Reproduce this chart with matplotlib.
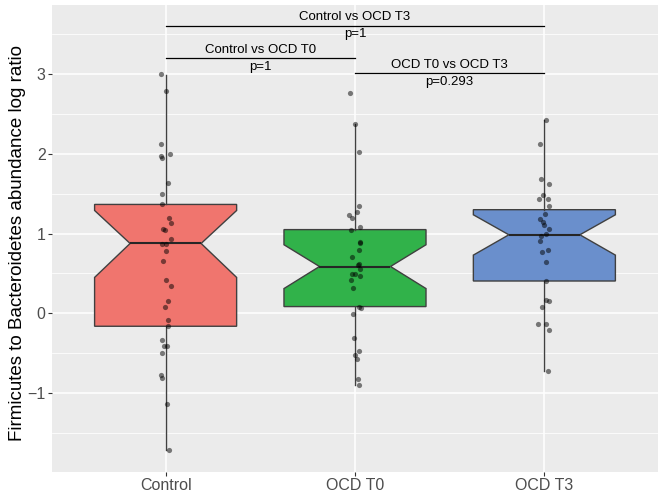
import matplotlib.pyplot as plt
from matplotlib.ticker import FixedLocator, MultipleLocator

plt.rcParams['font.family'] = ['Liberation Sans', 'DejaVu Sans']

groups = ['Control', 'OCD T0', 'OCD T3']
fills = ['#F0756E', '#31B24A', '#6A8FCC']

# jittered points: values and horizontal offsets (category units)
control_vals = [3.0, 2.79, 2.13, 1.98, 1.95, 2.0, 1.63, 1.5, 1.37, 1.2, 1.13,
                1.06, 1.04, 0.93, 0.87, 0.87, 0.78, 0.65, 0.42, 0.34, 0.16,
                0.08, -0.09, -0.16, -0.34, -0.41, -0.41, -0.5, -0.78, -0.81,
                -1.14, -1.72]
control_jit = [-0.026, 0.0, -0.026, -0.023, -0.017, 0.021, 0.012, -0.019,
               -0.019, 0.017, 0.026, -0.016, -0.002, 0.028, -0.017, 0.004,
               0.002, -0.014, 0.0, 0.028, 0.011, -0.004, 0.014, 0.012, -0.021,
               0.009, -0.009, -0.017, -0.023, -0.021, 0.009, 0.017]

t0_vals = [2.77, 2.37, 2.02, 1.35, 1.265, 1.23, 1.20, 1.08, 1.04, 0.90, 0.88,
           0.79, 0.70, 0.62, 0.60, 0.56, 0.495, 0.49, 0.47, 0.42, 0.32, 0.084,
           0.068, -0.01, -0.305, -0.47, -0.53, -0.57, -0.82, -0.90]
t0_jit = [-0.028, -0.002, 0.021, 0.023, 0.012, -0.030, -0.017, 0.025, -0.019,
          0.028, 0.028, 0.023, -0.016, 0.023, 0.017, 0.025, -0.017, -0.002,
          0.026, -0.023, -0.011, 0.023, 0.030, -0.012, -0.007, 0.021, 0.0,
          0.012, 0.014, 0.019]

t3_vals = [2.42, 2.12, 1.68, 1.62, 1.48, 1.44, 1.43, 1.35, 1.25, 1.18, 1.14,
           1.105, 1.06, 1.0, 0.97, 0.91, 0.80, 0.775, 0.64, 0.41, 0.17, 0.15,
           0.075, -0.13, -0.135, -0.205, -0.72]
t3_jit = [0.011, -0.023, -0.017, 0.023, -0.007, -0.028, 0.017, 0.026, 0.004,
          -0.025, -0.007, -0.002, 0.025, 0.011, -0.019, -0.025, 0.019, -0.012,
          0.011, 0.011, 0.011, 0.023, -0.011, -0.032, 0.007, 0.023, 0.019]

# box statistics
q1 = [-0.163, 0.084, 0.405]
med = [0.876, 0.587, 0.985]
q3 = [1.366, 1.05, 1.30]
cilo = [0.45, 0.31, 0.73]
cihi = [1.29, 0.86, 1.236]
whislo = [-1.72, -0.90, -0.72]
whishi = [2.99, 2.37, 2.42]

# pairwise comparisons
comp_pairs = [(1, 3), (1, 2), (2, 3)]
comp_y = [3.61, 3.20, 3.01]
comp_labels = ['Control vs OCD T3', 'Control vs OCD T0', 'OCD T0 vs OCD T3']
comp_p = ['p=1', 'p=1', 'p=0.293']

y_ticks = [-1, 0, 1, 2, 3]

fig = plt.figure(figsize=(6.58, 4.92), dpi=100)
ax = fig.add_axes([0.079, 0.041, 0.921, 0.949])
ax.set_facecolor('#EBEBEB')
for s in ax.spines.values():
    s.set_visible(False)

stats = []
for i in range(3):
    stats.append(dict(med=med[i], q1=q1[i], q3=q3[i], cilo=cilo[i], cihi=cihi[i],
                      whislo=whislo[i], whishi=whishi[i], fliers=[]))

bp = ax.bxp(stats, positions=[1, 2, 3], widths=0.75, shownotches=True,
            showfliers=False, showcaps=False, patch_artist=True,
            boxprops=dict(edgecolor='#404040', linewidth=1.0),
            whiskerprops=dict(color='#404040', linewidth=1.0),
            medianprops=dict(color='#262626', linewidth=1.5))
for patch, c in zip(bp['boxes'], fills):
    patch.set_facecolor(c)

for i, (vals, jit) in enumerate([(control_vals, control_jit),
                                 (t0_vals, t0_jit), (t3_vals, t3_jit)]):
    xs = [i + 1 + j for j in jit]
    ax.scatter(xs, vals, s=14, color='black', alpha=0.5, linewidths=0, zorder=5)

for (a, b), y, lab, p in zip(comp_pairs, comp_y, comp_labels, comp_p):
    ax.plot([a, b], [y, y], color='black', lw=0.9, zorder=6)
    ax.text((a + b) / 2, y + 0.105, lab, ha='center', va='center',
            fontsize=9.5, color='black')
    ax.text((a + b) / 2, y - 0.11, p, ha='center', va='center',
            fontsize=9.5, color='black')

ax.set_xlim(0.4, 3.6)
ax.set_ylim(-1.99, 3.87)
ax.set_xticks([1, 2, 3])
ax.set_xticklabels(groups)
ax.yaxis.set_major_locator(FixedLocator(y_ticks))
ax.yaxis.set_minor_locator(MultipleLocator(0.5))
ax.grid(which='major', color='white', lw=1.1)
ax.grid(which='minor', axis='y', color='white', lw=0.55)
ax.set_axisbelow(True)
ax.tick_params(axis='both', which='major', colors='#333333', labelcolor='#4D4D4D',
               labelsize=11.5, length=3, width=0.8, pad=1.5)
ax.tick_params(axis='both', which='minor', length=0)
ax.set_ylabel('Firmicutes to Bacteroidetes abundance log ratio', fontsize=13.5,
              color='black')
ax.yaxis.set_label_coords(-0.043, 0.49)

plt.savefig('out.png', dpi=100)
plt.close()
